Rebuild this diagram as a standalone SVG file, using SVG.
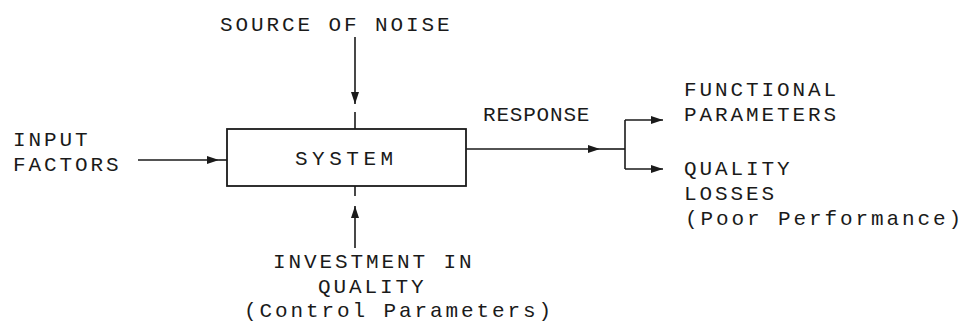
<svg xmlns="http://www.w3.org/2000/svg" width="974" height="334" viewBox="0 0 974 334">
<style>
text{font-family:"Liberation Mono","Courier New",monospace;font-size:21px;letter-spacing:2.9px;fill:#1a1a1a}
.ln{stroke:#1a1a1a;stroke-width:1.6;fill:none}
.box{stroke:#1a1a1a;stroke-width:1.8;fill:#fff}
</style>
<defs>
<marker id="ah" viewBox="0 0 12 8" refX="12" refY="4" markerWidth="12" markerHeight="8" markerUnits="userSpaceOnUse" orient="auto">
<path d="M0,0 L12,4 L0,8 Z" fill="#1a1a1a"/>
</marker>
</defs>
<g id="connectors">
<path class="ln" d="M355,37 V104" marker-end="url(#ah)"/>
<path class="ln" d="M355,112 V129"/>
<path class="ln" d="M355,186 V196"/>
<path class="ln" d="M355,248 V206" marker-end="url(#ah)"/>
<path class="ln" d="M138,160 H219" marker-end="url(#ah)"/>
<path class="ln" d="M219,160 H227"/>
<path class="ln" d="M466,149 H600" marker-end="url(#ah)"/>
<path class="ln" d="M600,149 H625"/>
<path class="ln" d="M625,120 V169"/>
<path class="ln" d="M625,120 H663" marker-end="url(#ah)"/>
<path class="ln" d="M625,169 H663" marker-end="url(#ah)"/>
</g>
<g id="system">
<rect class="box" x="227" y="129" width="239" height="57"/>
<text x="295" y="165" style="letter-spacing:4.5px">SYSTEM</text>
</g>
<g id="noise">
<text x="220" y="31">SOURCE OF NOISE</text>
</g>
<g id="input">
<text x="13" y="146">INPUT</text>
<text x="13" y="171">FACTORS</text>
</g>
<g id="investment">
<text x="273" y="268">INVESTMENT IN</text>
<text x="318" y="293">QUALITY</text>
<text x="244" y="317">(Control Parameters)</text>
</g>
<g id="response">
<text x="483" y="121" style="letter-spacing:0.8px">RESPONSE</text>
</g>
<g id="functional">
<text x="684" y="96">FUNCTIONAL</text>
<text x="684" y="121">PARAMETERS</text>
</g>
<g id="losses">
<text x="684" y="175">QUALITY</text>
<text x="684" y="200">LOSSES</text>
<text x="685" y="225">(Poor Performance)</text>
</g>
</svg>
